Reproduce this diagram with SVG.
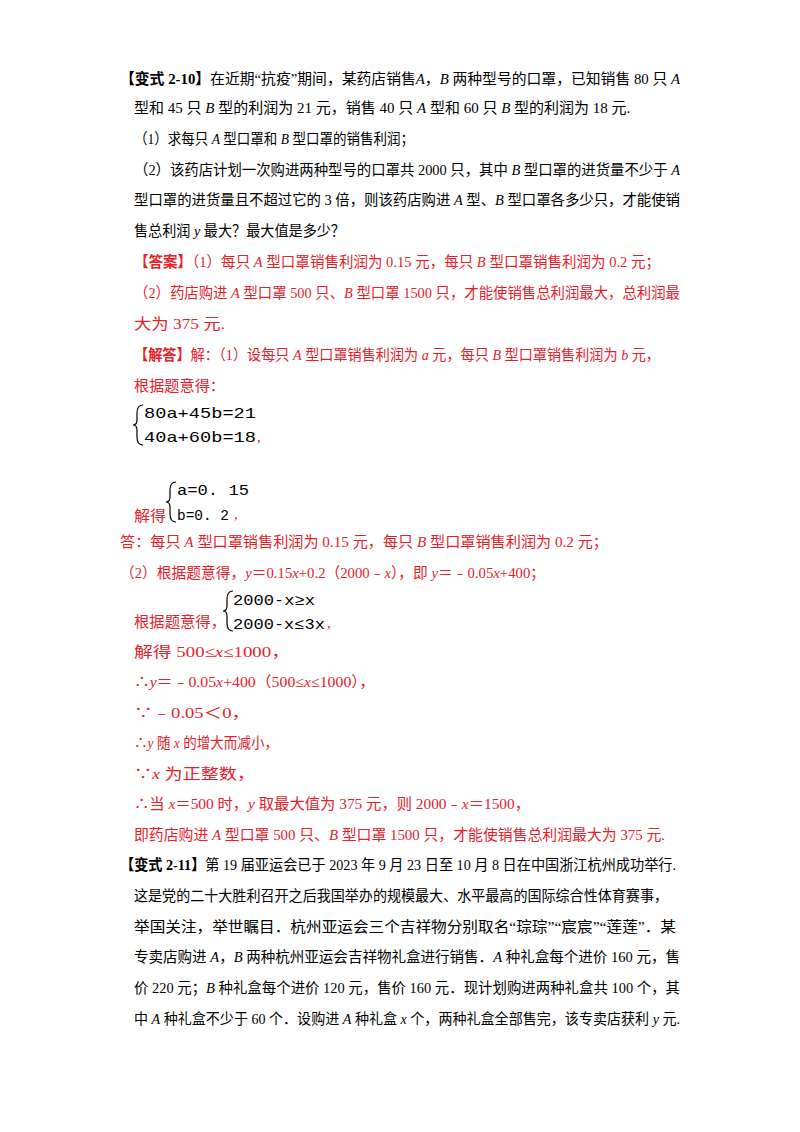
<svg xmlns="http://www.w3.org/2000/svg" width="800" height="1132" viewBox="0 0 800 1132">
<style>
text{font-family:"Liberation Serif","Noto Sans CJK SC",serif;font-size:15px;fill:#000}
.r{fill:#e8202a}
.b{font-weight:bold}
.i{font-style:italic}
.m{font-family:"Liberation Mono","Noto Sans CJK SC",monospace;font-size:15px;fill:#000}
.br{fill:none;stroke:#000;stroke-width:1.2}
</style>
<rect width="800" height="1132" fill="#fff"/>
<g id="q1">
<text x="120" y="84" textLength="560" lengthAdjust="spacingAndGlyphs"><tspan class="b">【变式 2-10】</tspan>在近期“抗疫”期间，某药店销售<tspan class="i">A</tspan>，<tspan class="i">B</tspan> 两种型号的口罩，已知销售 80 只 <tspan class="i">A</tspan></text>
<text x="134" y="113">型和 45 只 <tspan class="i">B</tspan> 型的利润为 21 元，销售 40 只 <tspan class="i">A</tspan> 型和 60 只 <tspan class="i">B</tspan> 型的利润为 18 元.</text>
<text x="134" y="144" textLength="280" lengthAdjust="spacingAndGlyphs">（1）求每只 <tspan class="i">A</tspan> 型口罩和 <tspan class="i">B</tspan> 型口罩的销售利润；</text>
<text x="134" y="175" textLength="546" lengthAdjust="spacingAndGlyphs">（2）该药店计划一次购进两种型号的口罩共 2000 只，其中 <tspan class="i">B</tspan> 型口罩的进货量不少于 <tspan class="i">A</tspan></text>
<text x="134" y="205" textLength="546" lengthAdjust="spacingAndGlyphs">型口罩的进货量且不超过它的 3 倍，则该药店购进 <tspan class="i">A</tspan> 型、<tspan class="i">B</tspan> 型口罩各多少只，才能使销</text>
<text x="134" y="236" textLength="211" lengthAdjust="spacingAndGlyphs">售总利润 <tspan class="i">y</tspan> 最大？最大值是多少？</text>
</g>
<g id="answer">
<text class="r" x="134" y="267" textLength="526" lengthAdjust="spacingAndGlyphs"><tspan class="b">【答案】</tspan>（1）每只 <tspan class="i">A</tspan> 型口罩销售利润为 0.15 元，每只 <tspan class="i">B</tspan> 型口罩销售利润为 0.2 元；</text>
<text class="r" x="134" y="298" textLength="546" lengthAdjust="spacingAndGlyphs">（2）药店购进 <tspan class="i">A</tspan> 型口罩 500 只、<tspan class="i">B</tspan> 型口罩 1500 只，才能使销售总利润最大，总利润最</text>
<text class="r" x="134" y="329" textLength="91" lengthAdjust="spacingAndGlyphs">大为 375 元.</text>
</g>
<g id="solution">
<text class="r" x="134" y="360" textLength="526" lengthAdjust="spacingAndGlyphs"><tspan class="b">【解答】</tspan>解：（1）设每只 <tspan class="i">A</tspan> 型口罩销售利润为 <tspan class="i">a</tspan> 元，每只 <tspan class="i">B</tspan> 型口罩销售利润为 <tspan class="i">b</tspan> 元，</text>
<text class="r" x="134" y="391" textLength="91" lengthAdjust="spacingAndGlyphs">根据题意得：</text>
<path class="br" d="M143,405 Q137,405 137,413 L137,420 Q137,425 133,425 Q137,425 137,430 L137,437 Q137,445 143,445"/>
<text class="m" x="144" y="418" textLength="112" lengthAdjust="spacingAndGlyphs">80a+45b=21</text>
<text class="m" x="144" y="442" textLength="112" lengthAdjust="spacingAndGlyphs">40a+60b=18</text>
<text class="r" x="257" y="442">,</text>
<text class="r" x="134" y="521" textLength="32" lengthAdjust="spacingAndGlyphs">解得</text>
<path class="br" d="M176,482 Q170,482 170,490 L170,497 Q170,502 166,502 Q170,502 170,507 L170,514 Q170,522 176,522"/>
<text class="m" x="177" y="495" textLength="72" lengthAdjust="spacingAndGlyphs">a=0. 15</text>
<text class="m" x="177" y="520" textLength="52" lengthAdjust="spacingAndGlyphs">b=0. 2</text>
<text class="r" x="234" y="519">,</text>
<text class="r" x="120" y="547" textLength="488" lengthAdjust="spacingAndGlyphs">答：每只 <tspan class="i">A</tspan> 型口罩销售利润为 0.15 元，每只 <tspan class="i">B</tspan> 型口罩销售利润为 0.2 元；</text>
<text class="r" x="120" y="578" textLength="425" lengthAdjust="spacingAndGlyphs">（2）根据题意得，<tspan class="i">y</tspan>＝0.15<tspan class="i">x</tspan>+0.2（2000﹣<tspan class="i">x</tspan>），即 <tspan class="i">y</tspan>＝﹣0.05<tspan class="i">x</tspan>+400；</text>
<text class="r" x="134" y="627" textLength="92" lengthAdjust="spacingAndGlyphs">根据题意得，</text>
<path class="br" d="M233,591 Q227,591 227,599 L227,606 Q227,611 223,611 Q227,611 227,616 L227,623 Q227,631 233,631"/>
<text class="m" x="233" y="605" textLength="82" lengthAdjust="spacingAndGlyphs">2000-x≥x</text>
<text class="m" x="233" y="629" textLength="92" lengthAdjust="spacingAndGlyphs">2000-x≤3x</text>
<text class="r" x="327" y="628">,</text>
<text class="r" x="134" y="657" textLength="156" lengthAdjust="spacingAndGlyphs">解得 500≤<tspan class="i">x</tspan>≤1000，</text>
<text class="r" x="134" y="687" textLength="241" lengthAdjust="spacingAndGlyphs">∴<tspan class="i">y</tspan>＝﹣0.05<tspan class="i">x</tspan>+400（500≤<tspan class="i">x</tspan>≤1000），</text>
<text class="r" x="134" y="718" textLength="116" lengthAdjust="spacingAndGlyphs">∵﹣0.05＜0，</text>
<text class="r" x="134" y="748" textLength="144" lengthAdjust="spacingAndGlyphs">∴<tspan class="i">y</tspan> 随 <tspan class="i">x</tspan> 的增大而减小，</text>
<text class="r" x="134" y="779" textLength="121" lengthAdjust="spacingAndGlyphs">∵<tspan class="i">x</tspan> 为正整数，</text>
<text class="r" x="134" y="809" textLength="396" lengthAdjust="spacingAndGlyphs">∴当 <tspan class="i">x</tspan>＝500 时，<tspan class="i">y</tspan> 取最大值为 375 元，则 2000﹣<tspan class="i">x</tspan>＝1500，</text>
<text class="r" x="134" y="840" textLength="531" lengthAdjust="spacingAndGlyphs">即药店购进 <tspan class="i">A</tspan> 型口罩 500 只、<tspan class="i">B</tspan> 型口罩 1500 只，才能使销售总利润最大为 375 元.</text>
</g>
<g id="q2">
<text x="120" y="870" textLength="556" lengthAdjust="spacingAndGlyphs"><tspan class="b">【变式 2-11】</tspan>第 19 届亚运会已于 2023 年 9 月 23 日至 10 月 8 日在中国浙江杭州成功举行.</text>
<text x="134" y="901" textLength="534" lengthAdjust="spacingAndGlyphs">这是党的二十大胜利召开之后我国举办的规模最大、水平最高的国际综合性体育赛事，</text>
<text x="134" y="932" textLength="542" lengthAdjust="spacingAndGlyphs">举国关注，举世瞩目．杭州亚运会三个吉祥物分别取名“琮琮”“宸宸”“莲莲”．某</text>
<text x="134" y="962" textLength="546" lengthAdjust="spacingAndGlyphs">专卖店购进 <tspan class="i">A</tspan>，<tspan class="i">B</tspan> 两种杭州亚运会吉祥物礼盒进行销售．<tspan class="i">A</tspan> 种礼盒每个进价 160 元，售</text>
<text x="134" y="993" textLength="546" lengthAdjust="spacingAndGlyphs">价 220 元；<tspan class="i">B</tspan> 种礼盒每个进价 120 元，售价 160 元．现计划购进两种礼盒共 100 个，其</text>
<text x="134" y="1024" textLength="546" lengthAdjust="spacingAndGlyphs">中 <tspan class="i">A</tspan> 种礼盒不少于 60 个．设购进 <tspan class="i">A</tspan> 种礼盒 <tspan class="i">x</tspan> 个，两种礼盒全部售完，该专卖店获利 <tspan class="i">y</tspan> 元.</text>
</g>
</svg>
